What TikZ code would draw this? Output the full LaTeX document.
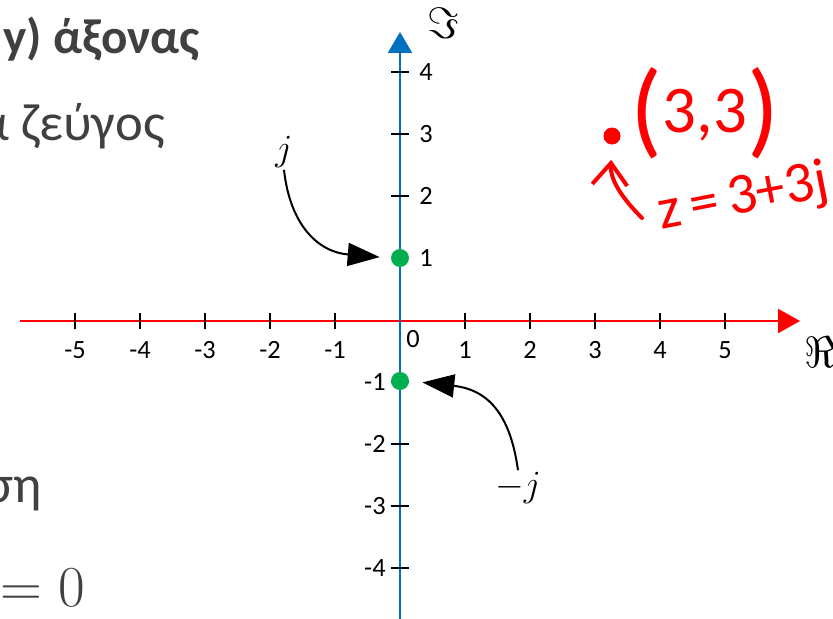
\RequirePackage{fix-cm}
\documentclass[tikz,border=0pt]{standalone}
\usepackage[no-math]{fontspec}
\newfontfamily\calibri{Carlito}
\usetikzlibrary{arrows.meta}
\definecolor{txtgray}{HTML}{404040}
\definecolor{axisblue}{HTML}{0070C0}
\definecolor{dotgreen}{HTML}{00B050}
\definecolor{inkred}{HTML}{FF0000}

\begin{document}
\begin{tikzpicture}[x=0.02cm, y=-0.02cm,
      tick/.style={line width=0.04cm, black},
      tlab/.style={font=\calibri\fontsize{15}{17}\selectfont, inner sep=0pt},
      mlab/.style={font=\fontsize{21}{24}\selectfont, inner sep=1pt},
      gdot/.style={circle, fill=dotgreen, minimum size=0.36cm, inner sep=0pt},
      pointer/.style={line width=0.04cm, -{Triangle[length=0.64cm, width=0.46cm]}},
      slide/.style={font=\calibri\fontsize{30}{34}\selectfont, text=txtgray, inner sep=0pt},
      ink/.style={text=inkred, font=\calibri, inner sep=0pt}]
    \useasboundingbox (0,0) rectangle (833,619);
    \clip (0,0) rectangle (833,619);
    % slide text behind the plot
    \node[slide, font=\calibri\bfseries\fontsize{28}{32}\selectfont, anchor=base east] (title) at (200,53) {y) άξονας};
    \node[slide, anchor=base east] (pair) at (165,140) {α ζεύγος};
    \node[slide, anchor=base east] (tail) at (42,502) {ση};
    \node[slide, font=\fontsize{33}{38}\selectfont, anchor=base west] (eqz) at (0,606) {$=0$};
    % axes
    \coordinate (xl) at (20,321);
    \coordinate (xr) at (800,321);
    \coordinate (yb) at (400,630);
    \coordinate (yt) at (400,32);
    \draw[inkred, line width=0.05cm, -{Triangle[length=0.44cm, width=0.48cm]}] (xl) -- (xr);
    \draw[axisblue, line width=0.05cm, -{Triangle[length=0.42cm, width=0.48cm]}] (yb) -- (yt);
    \node[mlab, font=\fontsize{25}{27}\selectfont] (re) at (820,352) {$\Re$};
    \node[mlab, font=\fontsize{25}{27}\selectfont] (im) at (443,23) {$\Im$};
    % ticks and numbers
    \foreach \i in {-5,...,-1,1,2,...,5} {
      \draw[tick] (400+65*\i,313) -- (400+65*\i,329);
      \node[tlab, anchor=north] (tx\i) at (400+65*\i,341) {\i};
    }
    \foreach \i in {1,...,4} {
      \draw[tick] (391,320-62*\i) -- (409,320-62*\i);
      \node[tlab, anchor=west] (ty\i) at (419,320-62*\i) {\i};
      \draw[tick] (391,320+62*\i) -- (409,320+62*\i);
      \node[tlab, anchor=east] (tn\i) at (386,320+62*\i) {-\i};
    }
    \node[tlab] (zero) at (413,339) {0};
    % j and -j
    \node[gdot] (pj) at (400,258) {};
    \node[gdot] (mj) at (400,381) {};
    \node[mlab] (lj) at (284,152) {$j$};
    \node[mlab] (lmj) at (518,488) {$-j$};
    \draw[pointer, shorten >=0.22cm] (lj.south) .. controls (290,225) and (318,252) .. (pj.west);
    \draw[pointer, shorten >=0.26cm] (lmj.north) .. controls (511,420) and (492,390) .. (mj.east);
    % handwritten note
    \node[circle, fill=inkred, minimum size=0.34cm, inner sep=0pt] (rdot) at (612,136) {};
    \node[ink, anchor=base] (pt) at (705,132) {\raisebox{-0.26cm}{\fontsize{60}{64}\selectfont(}{\fontsize{38}{42}\selectfont 3,3}\raisebox{-0.26cm}{\fontsize{60}{64}\selectfont)}};
    \node[ink, font=\calibri\fontsize{33}{36}\selectfont, rotate=11, anchor=base] (zeq) at (746,213) {z\,=\,3+3j};
    \coordinate (zt) at (642,218);
    \draw[inkred, line width=0.08cm, line cap=round, shorten >=0.3cm,
          -{Straight Barb[length=0.44cm, width=0.7cm]}] (zt) .. controls (622,198) and (610,180) .. (rdot.south);
  \end{tikzpicture}
\end{document}
